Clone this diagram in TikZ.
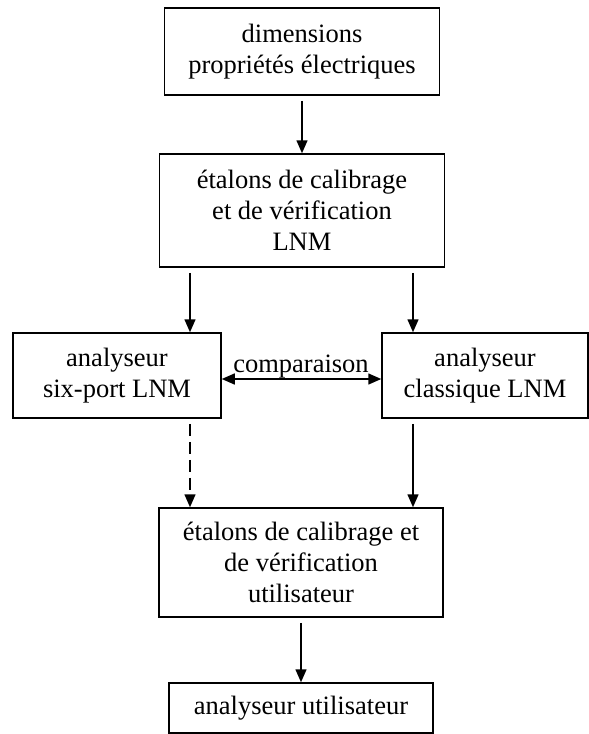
\documentclass[tikz,border=0pt]{standalone}
\usepackage{fontspec}
\setmainfont{Liberation Serif}
\usetikzlibrary{arrows.meta}
\begin{document}
\begin{tikzpicture}[x=1pt,y=-1pt,
  box/.style={draw,line width=1.5pt,inner sep=0pt,align=center,font=\fontsize{26.5}{31}\selectfont},
  lbl/.style={inner sep=0pt,font=\fontsize{26.5}{31}\selectfont},
  conn/.style={line width=1.5pt,-{Triangle[length=13pt,width=11pt]}},
  dconn/.style={conn,dash pattern=on 12pt off 6pt},
  both/.style={line width=1.5pt,{Triangle[length=13pt,width=11pt]}-{Triangle[length=13pt,width=11pt]}}
]
\useasboundingbox (0,0) rectangle (589,734);
\node[box,minimum width=275pt,minimum height=87pt] (b1) at (302,51.5) {dimensions\\propriétés électriques};
\node[box,minimum width=285pt,minimum height=113pt] (b2) at (302,210.5) {étalons de calibrage\\et de vérification\\LNM};
\node[box,minimum width=208pt,minimum height=85pt] (b3) at (117,375.5) {analyseur\\six-port LNM};
\node[box,minimum width=206pt,minimum height=85pt] (b4) at (485,375.5) {analyseur\\classique LNM};
\node[box,minimum width=284pt,minimum height=109pt] (b5) at (301,562.5) {étalons de calibrage et\\de vérification\\utilisateur};
\node[box,minimum width=264pt,minimum height=50pt] (b6) at (301,708) {analyseur utilisateur};
\node[lbl,anchor=base] (cmp) at (301,372) {comparaison};
\coordinate (xl) at (190,0);
\coordinate (xr) at (413,0);
\draw[conn] ([yshift=-5pt]b1.south) -- (b2.north);
\draw[conn] ([yshift=-5pt]b2.south -| xl) -- (b3.north -| xl);
\draw[conn] ([yshift=-5pt]b2.south -| xr) -- (b4.north -| xr);
\draw[both] ([yshift=-3.5pt]b3.east) -- ([yshift=-3.5pt]b4.west);
\draw[dconn] ([yshift=-5pt]b3.south -| xl) -- (b5.north -| xl);
\draw[conn] ([yshift=-5pt]b4.south -| xr) -- (b5.north -| xr);
\draw[conn] ([yshift=-5pt]b5.south) -- (b6.north);
\end{tikzpicture}
\end{document}
